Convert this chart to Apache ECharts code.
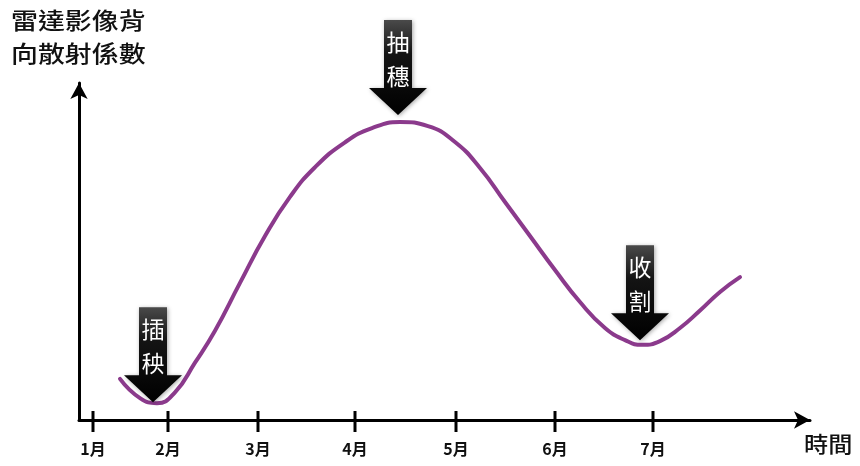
<!DOCTYPE html>
<html>
<head>
<meta charset="utf-8">
<script src="https://cdn.jsdelivr.net/npm/echarts@6/dist/echarts.min.js"></script>
<style>
  html, body { margin: 0; padding: 0; background: #fff; }
  #chart { width: 860px; height: 466px; }
</style>
</head>
<body>
<div id="chart"></div>
<script>
// Month tick positions along the time axis (axis units)
const monthPos = [0.14, 0.89, 1.79, 2.76, 3.77, 4.76, 5.74];
const monthLabels = ['1月', '2月', '3月', '4月', '5月', '6月', '7月'];

// Backscatter curve over the rice season
const curveX = [0.41, 0.61, 0.78, 0.96, 1.16, 1.36, 1.61, 1.86, 2.11, 2.36, 2.66, 2.93, 3.21, 3.49,
                3.76, 4.01, 4.26, 4.51, 4.76, 5.01, 5.26, 5.46, 5.63, 5.81, 6.01, 6.21, 6.41, 6.61];
const curveY = [1.22, 0.65, 0.50, 0.82, 1.70, 2.65, 4.07, 5.46, 6.62, 7.50, 8.24, 8.66, 8.84, 8.72,
                8.25, 7.48, 6.47, 5.46, 4.45, 3.50, 2.73, 2.37, 2.23, 2.34, 2.73, 3.25, 3.80, 4.24];

// Growth stages: arrow tip positions and names
const stageX = [0.74, 3.19, 5.61];
const stageY = [0.53, 9.05, 2.37];
const stageNames = ['插秧', '抽穗', '收割'];

const CJK = '"Noto Sans CJK TC", "Noto Sans CJK SC", sans-serif';

const chart = echarts.init(document.getElementById('chart'), null, { renderer: 'canvas' });

function nearestMonth(v) {
  let best = 0;
  for (let i = 1; i < monthPos.length; i++) {
    if (Math.abs(monthPos[i] - v) < Math.abs(monthPos[best] - v)) best = i;
  }
  return monthLabels[best];
}

const option = {
  backgroundColor: '#fff',
  animation: false,
  grid: { left: 79, right: 50, top: 83, bottom: 46 },
  xAxis: {
    type: 'value',
    min: 0,
    max: 7.31,
    axisLine: {
      show: true,
      symbol: ['none', 'arrow'],
      symbolSize: [13, 16],
      lineStyle: { color: '#000', width: 3 }
    },
    axisTick: { show: false },
    splitLine: { show: false },
    axisLabel: {
      customValues: monthPos,
      formatter: v => nearestMonth(v),
      margin: 21,
      color: '#111',
      fontFamily: CJK,
      fontSize: 16,
      fontWeight: 'bold'
    }
  },
  yAxis: {
    type: 'value',
    min: 0,
    max: 10,
    axisLine: {
      show: true,
      symbol: ['none', 'arrow'],
      symbolSize: [13, 16],
      lineStyle: { color: '#000', width: 3 }
    },
    axisTick: { show: false },
    axisLabel: { show: false },
    splitLine: { show: false }
  },
  graphic: [
    {
      type: 'text',
      x: 11, y: 4,
      scaleX: 1.17,
      style: {
        text: '雷達影像背\n向散射係數',
        font: '500 23px ' + CJK,
        lineHeight: 33,
        fill: '#111'
      }
    },
    {
      type: 'text',
      x: 804, y: 433,
      scaleX: 1.1,
      style: {
        text: '時間',
        font: '500 22px ' + CJK,
        fill: '#111'
      }
    }
  ],
  series: [
    {
      // month ticks crossing the time axis
      type: 'custom',
      silent: true,
      data: monthPos.map(v => [v, 0]),
      renderItem: (params, api) => {
        const p = api.coord([api.value(0), api.value(1)]);
        return {
          type: 'line',
          shape: { x1: p[0], y1: p[1] - 9, x2: p[0], y2: p[1] + 12 },
          style: { stroke: '#000', lineWidth: 3 }
        };
      },
      z: 3
    },
    {
      type: 'line',
      data: curveX.map((x, i) => [x, curveY[i]]),
      smooth: 0.5,
      symbol: 'none',
      lineStyle: { color: '#8b3a8c', width: 4, cap: 'round' },
      z: 4
    },
    {
      // stage arrows pointing at the curve
      type: 'custom',
      silent: true,
      data: stageX.map((x, i) => [x, stageY[i]]),
      renderItem: (params, api) => {
        const p = api.coord([api.value(0), api.value(1)]);
        const x = p[0], y = p[1];
        const sw = 14, hw = 29, hh = 27, H = 95;
        const name = stageNames[params.dataIndex];
        return {
          type: 'group',
          children: [
            {
              type: 'polygon',
              shape: {
                points: [[x - sw, y - H], [x + sw, y - H], [x + sw, y - hh], [x + hw, y - hh],
                         [x, y], [x - hw, y - hh], [x - sw, y - hh]]
              },
              style: {
                fill: new echarts.graphic.LinearGradient(0, 0, 0, 1, [
                  { offset: 0, color: '#4a4a4a' },
                  { offset: 0.35, color: '#141414' },
                  { offset: 1, color: '#000' }
                ]),
                shadowBlur: 4,
                shadowColor: 'rgba(0,0,0,0.35)',
                shadowOffsetX: 1,
                shadowOffsetY: 1
              }
            },
            {
              type: 'text',
              x: x, y: y - 73,
              style: { text: name[0], fill: '#fff', font: '23px ' + CJK, align: 'center', verticalAlign: 'middle' }
            },
            {
              type: 'text',
              x: x, y: y - 39,
              style: { text: name[1], fill: '#fff', font: '23px ' + CJK, align: 'center', verticalAlign: 'middle' }
            }
          ]
        };
      },
      z: 5
    }
  ]
};

chart.setOption(option);
</script>
</body>
</html>
